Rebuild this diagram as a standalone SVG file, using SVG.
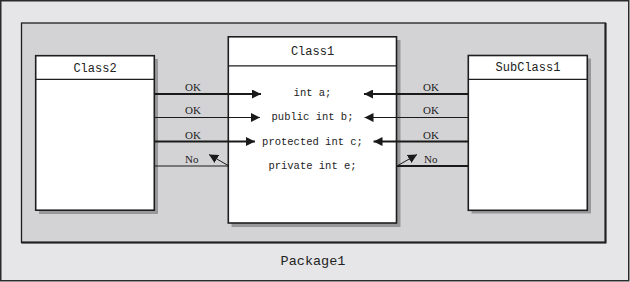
<svg xmlns="http://www.w3.org/2000/svg" width="630" height="282" viewBox="0 0 630 282">
<defs>
<style>
.box{fill:#fff;stroke:#1e1e1e;stroke-width:1.6}
.shadow{fill:#98989a}
.sep{stroke:#1e1e1e;stroke-width:1.3}
.mono{font-family:"Liberation Mono","Courier New",monospace;fill:#222}
.cname{font-size:12px}
.attr{font-size:10.5px}
.lbl{font-family:"Liberation Serif","Times New Roman",serif;font-size:11px;fill:#222}
.thick{stroke:#1a1a1a;stroke-width:2.2;fill:none}
.thin{stroke:#1a1a1a;stroke-width:1;fill:none}
</style>
<marker id="ah" viewBox="0 0 10 10" refX="10" refY="5" markerWidth="9" markerHeight="9" markerUnits="userSpaceOnUse" orient="auto">
<path d="M0,0 L10,5 L0,10 Z" fill="#1a1a1a"/>
</marker>
</defs>
<rect x="0.75" y="0.75" width="628" height="280" fill="#e6e6e8" stroke="#2a2a2a" stroke-width="1.5"/>
<g id="package1">
<rect x="21.5" y="23" width="584" height="219.5" fill="#d3d3d5" stroke="#1e1e1e" stroke-width="1.3"/>
<path d="M21.5,242.5 H605.5 V23" fill="none" stroke="#1e1e1e" stroke-width="2"/>
<text class="mono" x="313" y="264.5" font-size="13.5" text-anchor="middle">Package1</text>
</g>
<g id="class2">
<rect class="shadow" x="39" y="59" width="119" height="155"/>
<rect class="box" x="35.7" y="55.7" width="118.6" height="154.5"/>
<line class="sep" x1="35.7" y1="79.3" x2="154.3" y2="79.3"/>
<text class="mono cname" x="95" y="71.5" text-anchor="middle">Class2</text>
</g>
<g id="class1">
<rect class="shadow" x="231.5" y="40" width="169" height="187"/>
<rect class="box" x="228.3" y="36.8" width="168.2" height="186.2"/>
<line class="sep" x1="228.3" y1="65.8" x2="396.5" y2="65.8"/>
<text class="mono cname" x="312.5" y="55" text-anchor="middle">Class1</text>
<text class="mono attr" x="312.5" y="96" text-anchor="middle">int a;</text>
<text class="mono attr" x="312.5" y="120" text-anchor="middle">public int b;</text>
<text class="mono attr" x="312.5" y="144.5" text-anchor="middle">protected int c;</text>
<text class="mono attr" x="312.5" y="169" text-anchor="middle">private int e;</text>
</g>
<g id="subclass1">
<rect class="shadow" x="471.5" y="58.5" width="119.5" height="155"/>
<rect class="box" x="468.3" y="55.5" width="119" height="154.8"/>
<line class="sep" x1="468.3" y1="79.3" x2="587.3" y2="79.3"/>
<text class="mono cname" x="528" y="71" text-anchor="middle">SubClass1</text>
</g>
<g id="connectors">
<line class="thick" x1="155" y1="94" x2="261" y2="94" marker-end="url(#ah)"/>
<line class="thin" x1="155" y1="117.5" x2="260" y2="117.5" marker-end="url(#ah)"/>
<line class="thick" x1="155" y1="141.5" x2="255" y2="141.5" marker-end="url(#ah)"/>
<line class="thin" x1="155" y1="166" x2="228" y2="166"/>
<line class="thin" x1="229" y1="166" x2="209" y2="154.5" stroke-width="1.6" marker-end="url(#ah)"/>
<line class="thick" x1="468" y1="94" x2="364" y2="94" marker-end="url(#ah)"/>
<line class="thin" x1="468" y1="117.5" x2="364.5" y2="117.5" marker-end="url(#ah)"/>
<line class="thick" x1="468" y1="141.5" x2="373.5" y2="141.5" marker-end="url(#ah)"/>
<line class="thick" x1="468" y1="166" x2="397" y2="166"/>
<line class="thin" x1="397" y1="166" x2="417" y2="154.5" stroke-width="1.6" marker-end="url(#ah)"/>
<text class="lbl" x="185" y="90.5">OK</text>
<text class="lbl" x="185" y="114">OK</text>
<text class="lbl" x="185" y="138.5">OK</text>
<text class="lbl" x="185" y="162.5">No</text>
<text class="lbl" x="423" y="90.5">OK</text>
<text class="lbl" x="423" y="114">OK</text>
<text class="lbl" x="423" y="138.5">OK</text>
<text class="lbl" x="424" y="162.5">No</text>
</g>
</svg>
